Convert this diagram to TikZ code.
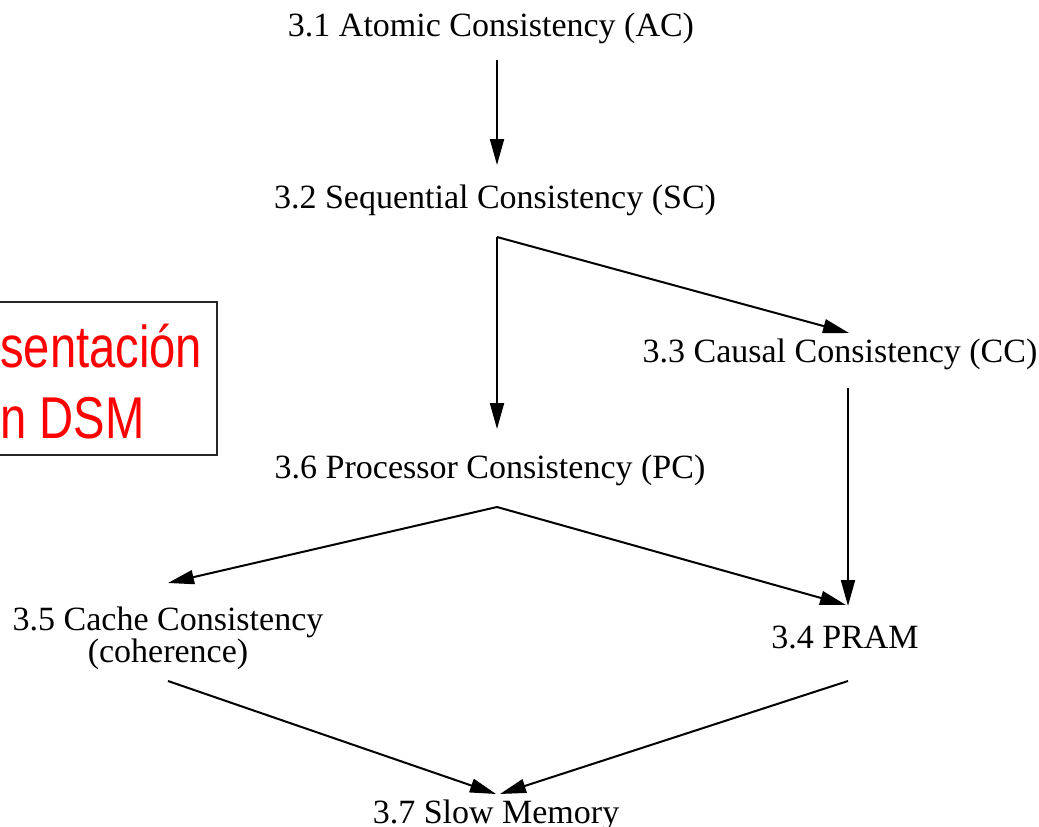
\documentclass[tikz,border=0pt]{standalone}
\usepackage{fontspec}
\setmainfont{Liberation Serif}
\newfontfamily\redfont[FakeStretch=0.8]{Liberation Sans}
\usetikzlibrary{arrows.meta}
\tikzset{
  lbl/.style={font=\fontsize{34}{27}\selectfont, inner sep=0pt, anchor=base},
  arr/.style={line width=2pt, -{Triangle[length=26pt,width=14pt]}},
}
\begin{document}
\begin{tikzpicture}[x=1pt,y=-1pt]
\useasboundingbox (0,0) rectangle (1039,827);
% red framed note (clipped at the left edge)
\draw[line width=1.5pt, black!85] (-20,302) -- (217,302) -- (217,455) -- (-20,455);
\node[font=\redfont\fontsize{59}{71}\selectfont, text=red, align=left, anchor=base west, inner sep=0pt] (note) at (0,438) {sentación\\n DSM};
% labels
\node[lbl] (AC) at (491,36) {3.1 Atomic Consistency (AC)};
\node[lbl] (SC) at (495,208) {3.2 Sequential Consistency (SC)};
\node[lbl] (CC) at (840,362) {3.3 Causal Consistency (CC)};
\node[lbl] (PC) at (490,478) {3.6 Processor Consistency (PC)};
\node[lbl, align=center] (Cache) at (168,662) {3.5 Cache Consistency\\(coherence)};
\node[lbl] (PRAM) at (845,648) {3.4 PRAM};
\node[lbl] (SM) at (496,823) {3.7 Slow Memory};
% connector end points
\coordinate (ACo) at (497,60);
\coordinate (SCi) at (497,165);
\coordinate (SCo) at (497,237);
\coordinate (CCi) at (849,333);
\coordinate (CCo) at (848,388);
\coordinate (PCi) at (497,429);
\coordinate (PCo) at (497,507);
\coordinate (Cachei) at (168,583);
\coordinate (PRAMi) at (846,605);
\coordinate (PRAMi2) at (848,606);
\coordinate (Cacheo) at (168,681);
\coordinate (PRAMo) at (848,681);
\coordinate (SMi) at (496,794);
\coordinate (SMi2) at (500,794);
% connectors
\draw[arr] (ACo) -- (SCi);
\draw[arr] (SCo) -- (CCi);
\draw[arr] (SCo) -- (PCi);
\draw[arr] (CCo) -- (PRAMi2);
\draw[arr] (PCo) -- (Cachei);
\draw[arr] (PCo) -- (PRAMi);
\draw[arr] (Cacheo) -- (SMi);
\draw[arr] (PRAMo) -- (SMi2);
\end{tikzpicture}
\end{document}
